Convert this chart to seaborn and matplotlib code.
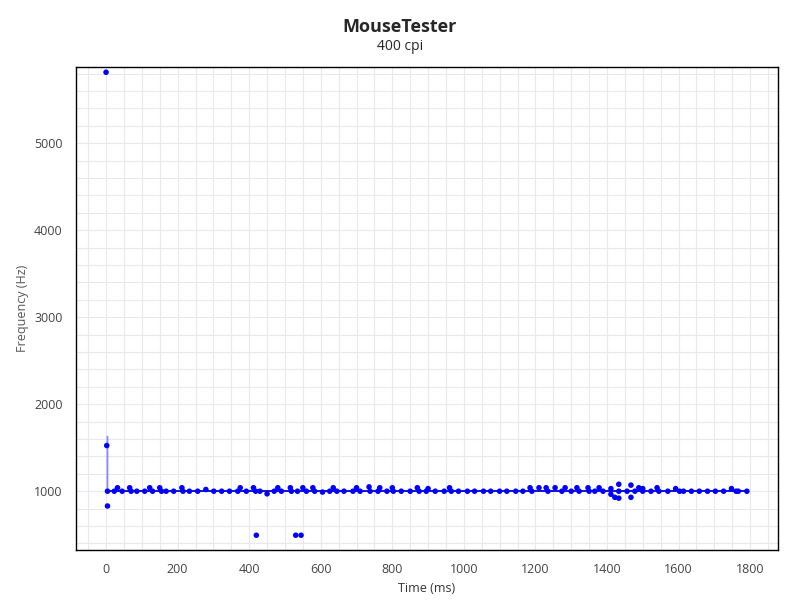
import numpy as np
import pandas as pd
import matplotlib.pyplot as plt
import seaborn as sns
from matplotlib.ticker import MultipleLocator

# ─────────────────────────────────────────────
# DADOS
# ─────────────────────────────────────────────
time_ms = [0, 2, 4, 4, 23, 32, 45, 66, 70, 86,
           108, 122, 130, 150, 155, 168, 189, 212, 215, 233,
           256, 279, 301, 323, 345, 368, 375, 392, 412, 418,
           420, 430, 450, 470, 480, 490, 515, 518, 530, 535,
           545, 550, 560, 578, 583, 605, 625, 635, 645, 665,
           690, 700, 710, 735, 738, 760, 765, 785, 800, 803,
           825, 850, 870, 875, 895, 900, 920, 945, 960, 965,
           985, 1010, 1030, 1055, 1075, 1100, 1120, 1145, 1165, 1185,
           1190, 1210, 1230, 1235, 1255, 1274, 1283, 1300, 1316, 1322,
           1347, 1350, 1366, 1378, 1389, 1411, 1411, 1422, 1433, 1433,
           1433, 1456, 1467, 1467, 1478, 1489, 1500, 1500, 1523, 1540,
           1545, 1570, 1592, 1603, 1614, 1636, 1658, 1681, 1703, 1726,
           1748, 1761, 1767, 1791]
freq_hz = [5816, 1525, 1000, 830, 1000, 1040, 1000, 1040, 1000, 1000,
           1000, 1040, 1000, 1040, 1000, 1000, 1000, 1040, 1000, 1000,
           1000, 1020, 1000, 1000, 1000, 1000, 1040, 1000, 1040, 1000,
           494, 1000, 970, 1000, 1040, 1000, 1040, 1000, 494, 1000,
           494, 1040, 1000, 1040, 1000, 990, 1000, 1040, 1000, 1000,
           1000, 1040, 1000, 1050, 1000, 1000, 1040, 1000, 1040, 1000,
           1000, 1000, 1040, 1000, 1000, 1030, 1000, 1000, 1040, 1000,
           1000, 1000, 1000, 1000, 1000, 1000, 1000, 1000, 1000, 1040,
           1000, 1040, 1040, 1000, 1040, 1000, 1040, 1000, 1040, 1000,
           1040, 1000, 1000, 1040, 1000, 1030, 965, 930, 920, 1080,
           1000, 1000, 1070, 930, 1000, 1040, 1030, 1000, 1000, 1040,
           1000, 1000, 1030, 1000, 1000, 1000, 1000, 1000, 1000, 1000,
           1030, 1000, 1000, 1000]

# linha contínua: pico inicial + patamar a 1000 Hz
line_time = [4, 4, 4, 1791]
line_freq = [1000, 1640, 1000, 1000]

df = pd.DataFrame({'Time (ms)': time_ms, 'Frequency (Hz)': freq_hz})

# ─────────────────────────────────────────────
# GRÁFICO
# ─────────────────────────────────────────────
sns.set_style('white')
plt.rcParams['font.family'] = 'Open Sans'

fig = plt.figure(figsize=(8, 6), dpi=100)
ax = fig.add_axes([0.095, 0.083, 0.8775, 0.805])

ax.plot(line_time[:3], line_freq[:3], color='#0000ff', linewidth=1, alpha=0.45, zorder=2)
ax.plot(line_time[2:], line_freq[2:], color='#0000cc', linewidth=1.3, zorder=2)
sns.scatterplot(data=df, x='Time (ms)', y='Frequency (Hz)', ax=ax,
                color='#0000ff', s=16, edgecolor='none', zorder=3)

ax.set_xlim(-84, 1878)
ax.set_ylim(322, 5874)
ax.xaxis.set_major_locator(MultipleLocator(200))
ax.xaxis.set_minor_locator(MultipleLocator(50))
ax.yaxis.set_major_locator(MultipleLocator(1000))
ax.yaxis.set_minor_locator(MultipleLocator(200))
ax.grid(which='both', color='#e8e8ee', linewidth=0.8, zorder=0)
ax.set_axisbelow(True)
ax.tick_params(which='major', length=6, color='black', labelsize=9, labelcolor='#444444')
ax.tick_params(which='minor', length=3, color='black')
for s in ax.spines.values():
    s.set_color('black')
    s.set_linewidth(1)
ax.set_xlabel('Time (ms)', fontsize=9, color='#333333')
ax.set_ylabel('Frequency (Hz)', fontsize=9, color='#555555')

fig.text(0.5, 0.955, 'MouseTester', ha='center', va='center', fontsize=13, fontweight='bold')
fig.text(0.5, 0.923, '400 cpi', ha='center', va='center', fontsize=10)

plt.savefig('out.png', dpi=100)
